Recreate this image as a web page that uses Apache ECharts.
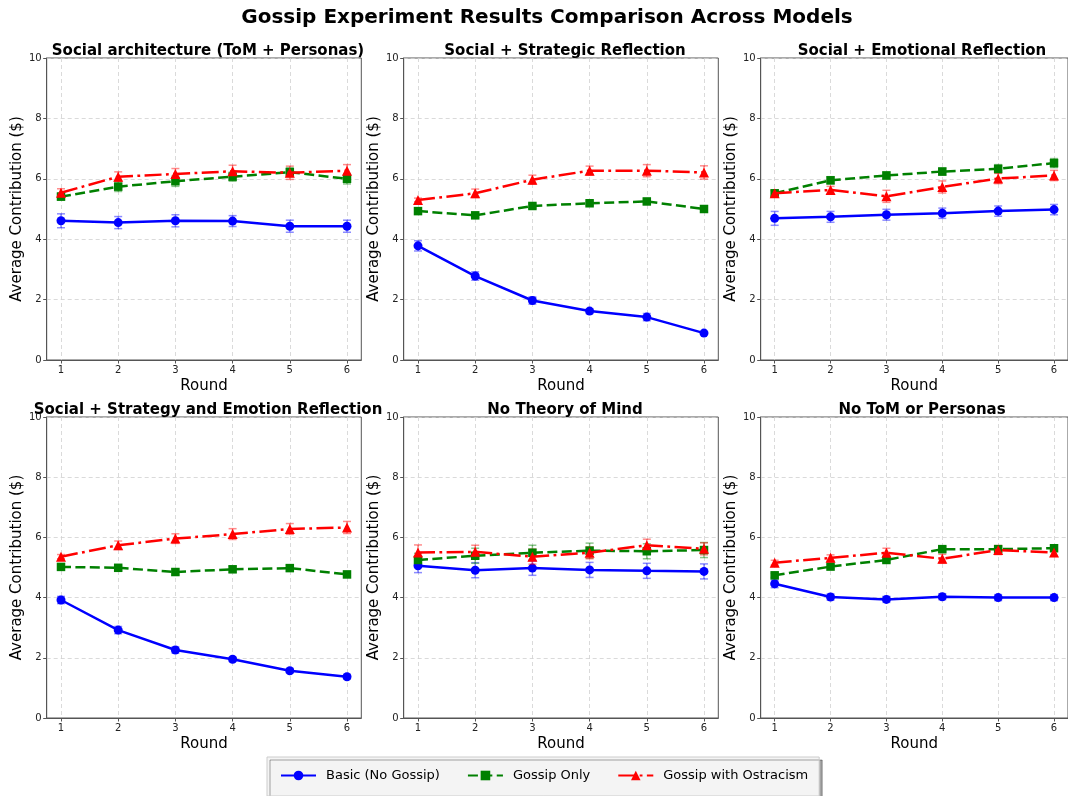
<!DOCTYPE html>
<html>
<head>
<meta charset="utf-8">
<script src="https://cdn.jsdelivr.net/npm/echarts@6/dist/echarts.min.js"></script>
<style>
html,body{margin:0;padding:0;background:#fff;}
#chart{width:1068px;height:796px;}
</style>
</head>
<body>
<div id="chart"></div>
<script>
// ---------- data ----------
const rounds = [1, 2, 3, 4, 5, 6];
const xTicks = [1, 2, 3, 4, 5, 6];
const yTicks = [0, 2, 4, 6, 8, 10];
const mainTitle = 'Gossip Experiment Results Comparison Across Models';
const panelTitles = [
  'Social architecture (ToM + Personas)',
  'Social + Strategic Reflection',
  'Social + Emotional Reflection',
  'Social + Strategy and Emotion Reflection',
  'No Theory of Mind',
  'No ToM or Personas'
];
const seriesNames = ['Basic (No Gossip)', 'Gossip Only', 'Gossip with Ostracism'];

const basicMean = [
  [4.61, 4.55, 4.61, 4.60, 4.43, 4.43],
  [3.78, 2.78, 1.97, 1.62, 1.42, 0.89],
  [4.69, 4.74, 4.81, 4.86, 4.93, 4.98],
  [3.92, 2.92, 2.26, 1.95, 1.57, 1.37],
  [5.06, 4.91, 4.98, 4.92, 4.89, 4.87],
  [4.46, 4.02, 3.94, 4.03, 4.00, 4.00]
];
const basicErr = [
  [0.23, 0.20, 0.20, 0.18, 0.20, 0.20],
  [0.17, 0.14, 0.12, 0.08, 0.12, 0.05],
  [0.23, 0.18, 0.18, 0.17, 0.17, 0.17],
  [0.12, 0.12, 0.10, 0.07, 0.07, 0.07],
  [0.23, 0.25, 0.24, 0.25, 0.25, 0.25],
  [0.13, 0.10, 0.10, 0.10, 0.10, 0.10]
];
const gossipMean = [
  [5.41, 5.74, 5.92, 6.07, 6.22, 6.00],
  [4.93, 4.79, 5.10, 5.19, 5.25, 5.00],
  [5.52, 5.95, 6.11, 6.24, 6.33, 6.52],
  [5.02, 4.99, 4.85, 4.94, 4.98, 4.77],
  [5.25, 5.39, 5.49, 5.56, 5.54, 5.58],
  [4.74, 5.03, 5.25, 5.61, 5.61, 5.64]
];
const gossipErr = [
  [0.12, 0.16, 0.17, 0.15, 0.15, 0.17],
  [0.08, 0.07, 0.07, 0.07, 0.08, 0.10],
  [0.10, 0.12, 0.12, 0.12, 0.14, 0.15],
  [0.08, 0.07, 0.10, 0.10, 0.10, 0.10],
  [0.22, 0.25, 0.25, 0.25, 0.25, 0.25],
  [0.07, 0.07, 0.07, 0.08, 0.08, 0.08]
];
const ostraMean = [
  [5.54, 6.07, 6.16, 6.25, 6.20, 6.27],
  [5.30, 5.52, 5.97, 6.27, 6.27, 6.21],
  [5.52, 5.63, 5.42, 5.73, 6.01, 6.11],
  [5.36, 5.74, 5.96, 6.11, 6.28, 6.33],
  [5.50, 5.52, 5.36, 5.49, 5.74, 5.62],
  [5.16, 5.32, 5.49, 5.29, 5.58, 5.50]
];
const ostraErr = [
  [0.13, 0.16, 0.18, 0.20, 0.22, 0.20],
  [0.06, 0.14, 0.15, 0.15, 0.20, 0.22],
  [0.08, 0.12, 0.20, 0.20, 0.17, 0.17],
  [0.07, 0.14, 0.16, 0.18, 0.18, 0.20],
  [0.25, 0.22, 0.25, 0.20, 0.20, 0.20],
  [0.08, 0.10, 0.15, 0.15, 0.15, 0.13]
];

// ---------- layout ----------
const FONT = 'DejaVu Sans';
const colLeft = [46.7, 403.7, 760.7];
const plotW = 314.6;
const rowTop = [58, 417];
const plotH = [302, 301];
const colors = ['#0000ff', '#008000', '#ff0000'];
const errColors = ['rgba(0,0,255,0.45)', 'rgba(0,128,0,0.45)', 'rgba(255,0,0,0.45)'];
const symbols = ['circle', 'rect', 'triangle'];
const symbolSizes = [9, 8.5, 10];
const lineTypes = ['solid', [10, 4.4], [17, 4.4, 2.8, 4.4]];

const grids = [], xAxes = [], yAxes = [], series = [];
const titles = [{
  text: mainTitle, left: 542, top: 3, textAlign: 'center',
  textStyle: {fontFamily: FONT, fontSize: 20, fontWeight: 'bold', color: '#000'}
}];

function errRender(color) {
  return function (params, api) {
    const x = api.value(0), lo = api.value(1), hi = api.value(2);
    const p1 = api.coord([x, lo]), p2 = api.coord([x, hi]);
    const hw = 4;
    const st = {stroke: color, lineWidth: 1.5};
    return {type: 'group', children: [
      {type: 'line', shape: {x1: p1[0], y1: p1[1], x2: p2[0], y2: p2[1]}, style: st},
      {type: 'line', shape: {x1: p1[0] - hw, y1: p1[1], x2: p1[0] + hw, y2: p1[1]}, style: st},
      {type: 'line', shape: {x1: p2[0] - hw, y1: p2[1], x2: p2[0] + hw, y2: p2[1]}, style: st}
    ]};
  };
}

const means = [basicMean, gossipMean, ostraMean];
const errs = [basicErr, gossipErr, ostraErr];

for (let p = 0; p < 6; p++) {
  const r = Math.floor(p / 3), c = p % 3;
  grids.push({left: colLeft[c], top: rowTop[r], width: plotW, height: plotH[r],
    show: true, borderColor: '#555', borderWidth: 1, backgroundColor: 'transparent'});
  titles.push({
    text: panelTitles[p], left: colLeft[c] + plotW / 2 - 1, top: rowTop[r] - 19, textAlign: 'center',
    textStyle: {fontFamily: FONT, fontSize: 15, fontWeight: 'bold', color: '#000'}
  });
  xAxes.push({
    type: 'value', gridIndex: p, min: 0.75, max: 6.25,
    name: 'Round', nameLocation: 'middle', nameGap: 19,
    nameTextStyle: {fontFamily: FONT, fontSize: 15, color: '#000'},
    axisLine: {show: true, lineStyle: {color: '#555', width: 1}},
    axisTick: {show: true, length: 3.5, customValues: xTicks, lineStyle: {color: '#555'}},
    axisLabel: {customValues: xTicks, fontFamily: FONT, fontSize: 10, color: '#222', margin: 5},
    splitLine: {show: true, lineStyle: {color: '#d0d0d0', type: [4, 3], width: 0.8}}
  });
  yAxes.push({
    type: 'value', gridIndex: p, min: 0, max: 10, interval: 2,
    name: 'Average Contribution ($)', nameLocation: 'middle', nameGap: 21,
    nameTextStyle: {fontFamily: FONT, fontSize: 15, color: '#000'},
    axisLine: {show: true, lineStyle: {color: '#555', width: 1}},
    axisTick: {show: true, length: 3.5, lineStyle: {color: '#555'}},
    axisLabel: {fontFamily: FONT, fontSize: 10, color: '#222', margin: 5},
    splitLine: {show: true, lineStyle: {color: '#d0d0d0', type: [4, 3], width: 0.8}}
  });
  for (let s = 0; s < 3; s++) {
    const m = means[s][p], e = errs[s][p];
    series.push({
      type: 'custom', name: seriesNames[s] + ' err', xAxisIndex: p, yAxisIndex: p,
      renderItem: errRender(errColors[s]), silent: true, z: 2 + s,
      encode: {x: 0, y: [1, 2]},
      data: rounds.map((x, i) => [x, m[i] - e[i], m[i] + e[i]])
    });
    series.push({
      type: 'line', name: seriesNames[s], xAxisIndex: p, yAxisIndex: p,
      symbol: symbols[s], symbolSize: symbolSizes[s], z: 3 + s,
      showSymbol: true, animation: false,
      lineStyle: {color: colors[s], width: 2.5, type: lineTypes[s]},
      itemStyle: {color: colors[s]},
      data: rounds.map((x, i) => [x, m[i]])
    });
  }
}

const chart = echarts.init(document.getElementById('chart'), null, {renderer: 'canvas'});
chart.setOption({
  backgroundColor: '#fff',
  animation: false,
  title: titles,
  grid: grids,
  xAxis: xAxes,
  yAxis: yAxes,
  legend: {
    data: seriesNames,
    left: 267, top: 757,
    itemWidth: 35, itemHeight: 12, itemGap: 27,
    padding: [12, 11, 14, 13],
    backgroundColor: '#f4f4f4', borderColor: '#cccccc', borderWidth: 1,
    shadowColor: 'rgba(0,0,0,0.35)', shadowOffsetX: 3, shadowOffsetY: 3, shadowBlur: 0,
    textStyle: {fontFamily: FONT, fontSize: 13, color: '#000', padding: [0, 0, 0, 5]}
  },
  series: series
});
</script>
</body>
</html>
